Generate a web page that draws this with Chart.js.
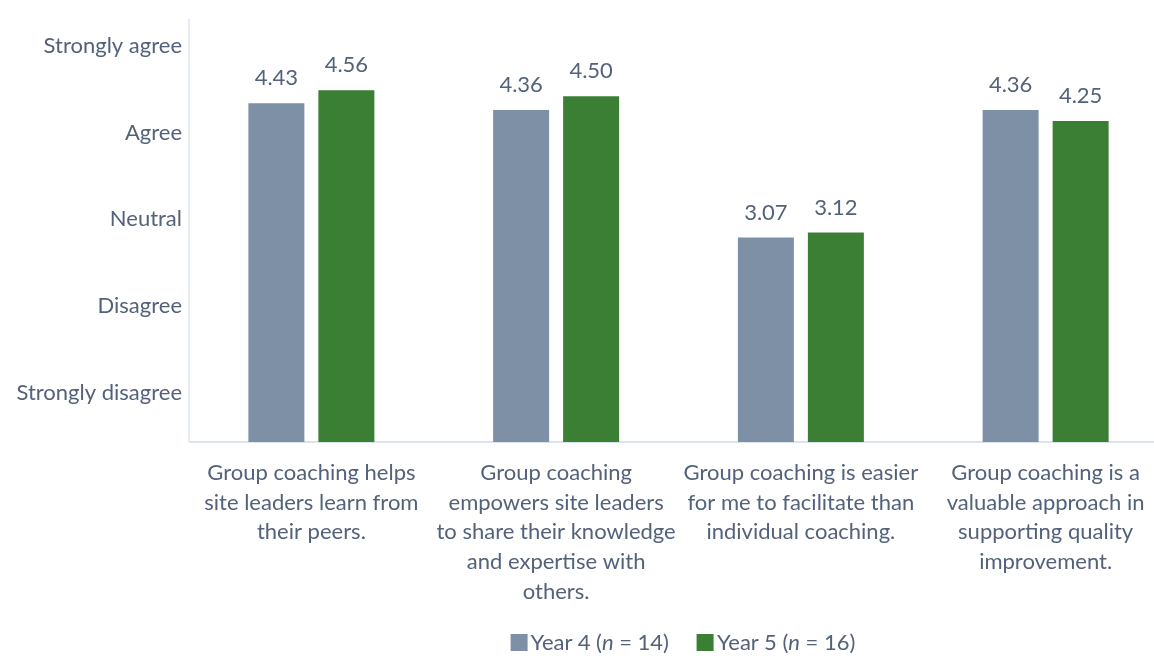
<!DOCTYPE html>
<html>
<head>
<meta charset="utf-8">
<script src="https://cdn.jsdelivr.net/npm/chart.js@4.4.1/dist/chart.umd.min.js"></script>
<style>
  body { margin: 0; background: #fff; }
  #wrap { position: relative; width: 1154px; height: 656px; overflow: hidden; }
  #legend {
    position: absolute; top: 628px; left: 0;
    font-family: "Lato", sans-serif; font-size: 22px; color: #53627A;
    white-space: nowrap; transform: translateX(-50%);
  }
  #legend span.item { margin: 0 14px; }
  #legend span.box { display: inline-block; width: 17px; height: 17px; margin-right: 3px; vertical-align: -1px; }
</style>
</head>
<body>
<div id="wrap">
  <canvas id="chart" width="1168" height="656"></canvas>
  <div id="legend"></div>
</div>
<script>
const categories = [
    ["Group coaching helps", "site leaders learn from", "their peers."],
    ["Group coaching", "empowers site leaders", "to share their knowledge", "and expertise with", "others."],
    ["Group coaching is easier", "for me to facilitate than", "individual coaching."],
    ["Group coaching is a", "valuable approach in", "supporting quality", "improvement."]
];
const year4 = [4.43, 4.36, 3.07, 4.36];
const year5 = [4.56, 4.50, 3.12, 4.25];
const scaleLabels = ["Strongly agree", "Agree", "Neutral", "Disagree", "Strongly disagree"];
const seriesNames = ["Year 4", "Year 5"];
const seriesN = [14, 16];

const textColor = "#53627A";
const colors = ["#7D90A6", "#3A7F34"];

// value labels above the bars
const valueLabels = {
    id: "valueLabels",
    afterDatasetsDraw(chart) {
        const ctx = chart.ctx;
        ctx.save();
        ctx.font = "22px Lato";
        ctx.fillStyle = textColor;
        ctx.textAlign = "center";
        ctx.textBaseline = "alphabetic";
        chart.data.datasets.forEach((ds, i) => {
            chart.getDatasetMeta(i).data.forEach((bar, j) => {
                ctx.fillText(ds.data[j].toFixed(2), bar.x, bar.y - 18);
            });
        });
        ctx.restore();
    }
};

const chart = new Chart(document.getElementById("chart"), {
    type: "bar",
    data: {
        labels: categories,
        datasets: [
            { label: seriesNames[0], data: year4, backgroundColor: colors[0], yAxisID: "y" },
            { label: seriesNames[1], data: year5, backgroundColor: colors[1], yAxisID: "y" }
        ]
    },
    options: {
        responsive: false,
        animation: false,
        categoryPercentage: 0.572,
        barPercentage: 0.8,
        layout: { padding: { top: 16, right: 0, left: 0, bottom: 0 } },
        plugins: { legend: { display: false }, tooltip: { enabled: false } },
        scales: {
            x: {
                grid: { display: false, drawTicks: false },
                border: { display: true, color: "#DCE3EC", width: 2 },
                ticks: {
                    color: textColor,
                    padding: 16,
                    maxRotation: 0,
                    autoSkip: false,
                    font: { family: "Lato", size: 22, lineHeight: 1.35 }
                },
                afterFit: s => { s.height = 214; }
            },
            y: {
                display: false,
                min: 1,
                max: 5.27
            },
            yl: {
                type: "linear",
                position: "left",
                reverse: true,
                min: -0.297,
                max: 4.571,
                grid: { display: false, drawTicks: false },
                border: { display: true, color: "#E6ECF4", width: 2 },
                afterBuildTicks: s => { s.ticks = scaleLabels.map((_, i) => ({ value: i })); },
                afterFit: s => { s.width = 189; },
                ticks: {
                    color: textColor,
                    padding: 7,
                    font: { family: "Lato", size: 22 },
                    callback: v => scaleLabels[v]
                }
            }
        }
    },
    plugins: [valueLabels]
});

// legend with italic n, centred under the plot area
const legend = document.getElementById("legend");
legend.innerHTML = seriesNames.map((name, i) =>
    `<span class="item"><span class="box" style="background:${colors[i]}"></span>${name} (<i>n</i> = ${seriesN[i]})</span>`
).join("");
legend.style.left = "683px";
</script>
</body>
</html>
